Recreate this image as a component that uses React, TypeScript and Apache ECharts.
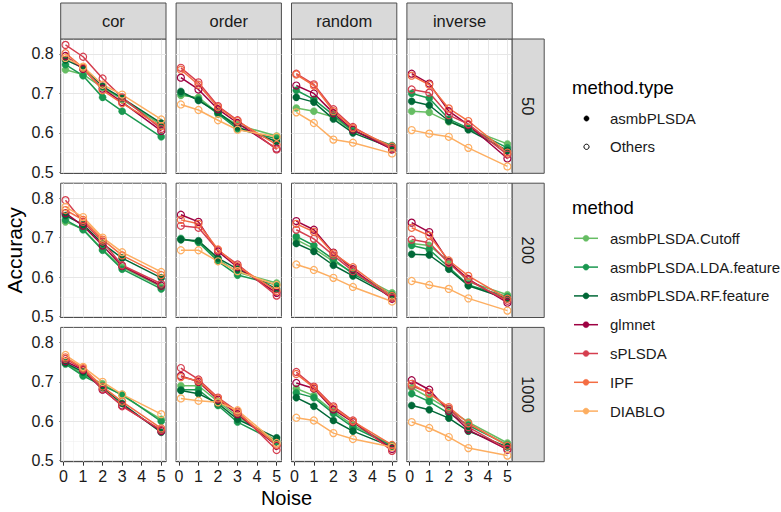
import React, { useEffect, useRef } from "react";
import * as echarts from "echarts";

const noise = [0.1, 1, 2, 3, 5];
const sizes = ["50", "200", "1000"];
const designs = ["cor", "order", "random", "inverse"];
const methods = [
  "asmbPLSDA.Cutoff",
  "asmbPLSDA.LDA.feature",
  "asmbPLSDA.RF.feature",
  "glmnet",
  "sPLSDA",
  "IPF",
  "DIABLO",
];
const methodTypes = ["asmbPLSDA", "asmbPLSDA", "asmbPLSDA", "Others", "Others", "Others", "Others"];
const colors = ["#66bd63", "#1a9850", "#006837", "#9e0142", "#d53e4f", "#f46d43", "#fdae61"];
const xTicks = [0, 1, 2, 3, 4, 5];
const xMinor = [0.5, 1.5, 2.5, 3.5, 4.5];
const yTicks = [0.5, 0.6, 0.7, 0.8];
const yMinor = [0.55, 0.65, 0.75];

// panels in order: 50-cor, 50-order, 50-random, 50-inverse, 200-..., 1000-...
const cutoff = [
  [0.760, 0.748, 0.715, 0.685, 0.620], [0.695, 0.690, 0.650, 0.620, 0.592], [0.663, 0.655, 0.640, 0.605, 0.565], [0.655, 0.652, 0.628, 0.610, 0.572],
  [0.740, 0.722, 0.670, 0.625, 0.575], [0.695, 0.690, 0.645, 0.612, 0.585], [0.695, 0.672, 0.640, 0.612, 0.560], [0.685, 0.680, 0.640, 0.588, 0.555],
  [0.748, 0.718, 0.695, 0.665, 0.605], [0.690, 0.690, 0.650, 0.612, 0.550], [0.683, 0.665, 0.625, 0.590, 0.540], [0.685, 0.660, 0.630, 0.598, 0.545],
];
const lda = [
  [0.773, 0.745, 0.690, 0.655, 0.590], [0.700, 0.685, 0.648, 0.610, 0.585], [0.708, 0.685, 0.645, 0.605, 0.568], [0.700, 0.688, 0.635, 0.612, 0.562],
  [0.745, 0.720, 0.668, 0.620, 0.570], [0.698, 0.688, 0.640, 0.605, 0.580], [0.703, 0.680, 0.645, 0.608, 0.555], [0.680, 0.670, 0.625, 0.580, 0.550],
  [0.745, 0.715, 0.690, 0.668, 0.600], [0.680, 0.680, 0.640, 0.598, 0.548], [0.672, 0.660, 0.620, 0.585, 0.538], [0.670, 0.650, 0.620, 0.590, 0.540],
];
const rf = [
  [0.785, 0.765, 0.718, 0.688, 0.625], [0.705, 0.682, 0.652, 0.615, 0.578], [0.690, 0.678, 0.635, 0.600, 0.562], [0.680, 0.670, 0.630, 0.608, 0.555],
  [0.756, 0.733, 0.685, 0.648, 0.598], [0.695, 0.692, 0.648, 0.620, 0.570], [0.685, 0.665, 0.630, 0.603, 0.550], [0.658, 0.656, 0.620, 0.578, 0.545],
  [0.748, 0.725, 0.685, 0.645, 0.572], [0.678, 0.670, 0.645, 0.605, 0.558], [0.660, 0.638, 0.602, 0.575, 0.535], [0.640, 0.629, 0.608, 0.575, 0.535],
];
const glmnet = [
  [0.795, 0.762, 0.712, 0.678, 0.605], [0.740, 0.710, 0.660, 0.625, 0.560], [0.720, 0.700, 0.650, 0.608, 0.558], [0.750, 0.725, 0.655, 0.620, 0.535],
  [0.762, 0.730, 0.680, 0.628, 0.578], [0.758, 0.740, 0.665, 0.625, 0.560], [0.742, 0.720, 0.662, 0.620, 0.545], [0.738, 0.714, 0.638, 0.595, 0.535],
  [0.752, 0.730, 0.680, 0.640, 0.575], [0.715, 0.700, 0.655, 0.618, 0.538], [0.697, 0.683, 0.630, 0.598, 0.530], [0.704, 0.680, 0.626, 0.578, 0.528],
];
const splsda = [
  [0.823, 0.793, 0.738, 0.690, 0.610], [0.765, 0.728, 0.668, 0.632, 0.558], [0.750, 0.723, 0.660, 0.615, 0.560], [0.710, 0.702, 0.645, 0.622, 0.545],
  [0.795, 0.740, 0.690, 0.630, 0.583], [0.730, 0.725, 0.668, 0.632, 0.553], [0.720, 0.697, 0.655, 0.615, 0.548], [0.695, 0.687, 0.635, 0.592, 0.540],
  [0.758, 0.732, 0.682, 0.638, 0.578], [0.735, 0.706, 0.660, 0.625, 0.527], [0.725, 0.688, 0.638, 0.602, 0.525], [0.690, 0.672, 0.632, 0.585, 0.530],
];
const ipf = [
  [0.802, 0.765, 0.708, 0.675, 0.617], [0.760, 0.722, 0.665, 0.630, 0.570], [0.748, 0.720, 0.655, 0.612, 0.565], [0.745, 0.722, 0.662, 0.630, 0.550],
  [0.770, 0.745, 0.695, 0.655, 0.605], [0.745, 0.735, 0.670, 0.628, 0.565], [0.735, 0.715, 0.660, 0.625, 0.552], [0.725, 0.705, 0.642, 0.603, 0.545],
  [0.762, 0.735, 0.688, 0.650, 0.582], [0.712, 0.702, 0.658, 0.622, 0.540], [0.720, 0.685, 0.635, 0.600, 0.540], [0.695, 0.670, 0.636, 0.595, 0.538],
];
const diablo = [
  [0.790, 0.768, 0.722, 0.697, 0.634], [0.672, 0.658, 0.632, 0.608, 0.590], [0.652, 0.625, 0.583, 0.575, 0.548], [0.607, 0.598, 0.590, 0.562, 0.515],
  [0.778, 0.752, 0.700, 0.663, 0.613], [0.668, 0.668, 0.640, 0.615, 0.580], [0.632, 0.618, 0.598, 0.575, 0.538], [0.590, 0.580, 0.570, 0.546, 0.515],
  [0.768, 0.738, 0.700, 0.668, 0.618], [0.658, 0.652, 0.648, 0.628, 0.545], [0.609, 0.602, 0.570, 0.555, 0.535], [0.598, 0.583, 0.560, 0.532, 0.513],
];
const accuracy = [cutoff, lda, rf, glmnet, splsda, ipf, diablo];

const FONT = "'Liberation Sans', Arial, sans-serif";
const X0 = 60.7, XSTEP = 115.4, PW = 105.3;
const Y0 = 39, YSTEP = 144.2, PH = 134.3;
const STRIP_TOP = 3;
const XMIN = -0.145, XMAX = 5.245;
const YMIN = 0.4975, YMAX = 0.838;

export default function App() {
  const ref = useRef<HTMLDivElement>(null);
  useEffect(() => {
    if (!ref.current) return;
    const chart = echarts.init(ref.current, null, { renderer: "svg" });
    const grids: any[] = [];
    const xAxes: any[] = [];
    const yAxes: any[] = [];
    const series: any[] = [];
    const graphics: any[] = [];
    for (let r = 0; r < sizes.length; r++) {
      for (let c = 0; c < designs.length; c++) {
        const k = r * designs.length + c;
        const left = X0 + c * XSTEP;
        const top = Y0 + r * YSTEP;
        grids.push({
          left, top, width: PW, height: PH,
          show: true, backgroundColor: "#ffffff", borderColor: "#4d4d4d", borderWidth: 1,
          containLabel: false,
        });
        xAxes.push({
          type: "value", gridIndex: k, min: XMIN, max: XMAX,
          axisLine: { show: true, lineStyle: { color: "#4d4d4d", width: 1 } },
          splitLine: { show: false },
          axisTick: { show: r === sizes.length - 1, customValues: xTicks, length: 4, lineStyle: { color: "#333", width: 1 } },
          axisLabel: {
            show: r === sizes.length - 1, customValues: xTicks, fontSize: 16, color: "#1a1a1a",
            fontFamily: FONT, margin: 7, formatter: (v: number) => String(v),
          },
        });
        yAxes.push({
          type: "value", gridIndex: k, min: YMIN, max: YMAX,
          axisLine: { show: true, lineStyle: { color: "#4d4d4d", width: 1 } },
          splitLine: { show: false },
          axisTick: { show: c === 0, customValues: yTicks, length: 4, lineStyle: { color: "#333", width: 1 } },
          axisLabel: {
            show: c === 0, customValues: yTicks, fontSize: 16, color: "#1a1a1a",
            fontFamily: FONT, margin: 7, formatter: (v: number) => v.toFixed(1),
          },
        });
        const gl: any[] = [];
        xTicks.forEach((v) => gl.push({ xAxis: v, lineStyle: { color: "#e6e6e6", width: 1, type: "solid" } }));
        xMinor.forEach((v) => gl.push({ xAxis: v, lineStyle: { color: "#f0f0f0", width: 0.6, type: "solid" } }));
        yTicks.forEach((v) => gl.push({ yAxis: v, lineStyle: { color: "#e6e6e6", width: 1, type: "solid" } }));
        yMinor.forEach((v) => gl.push({ yAxis: v, lineStyle: { color: "#f0f0f0", width: 0.6, type: "solid" } }));
        series.push({
          type: "line", xAxisIndex: k, yAxisIndex: k, silent: true, z: 1,
          data: [[2, 0.6]], symbol: "none", showSymbol: false, lineStyle: { width: 0, opacity: 0 },
          markLine: {
            silent: true, symbol: ["none", "none"], label: { show: false }, animation: false, z: 1,
            lineStyle: { type: "solid" }, emphasis: { disabled: true },
            data: gl,
          },
        });
        methods.forEach((m, mi) => {
          const col = colors[mi];
          const filled = methodTypes[mi] === "asmbPLSDA";
          series.push({
            type: "line", name: m, xAxisIndex: k, yAxisIndex: k, silent: true, z: 3,
            data: noise.map((x, i) => [x, accuracy[mi][k][i]]),
            symbol: "circle", symbolSize: 7, showSymbol: true,
            lineStyle: { color: col, width: 1.5 },
            itemStyle: filled
              ? { color: col, borderColor: col, borderWidth: 0.5 }
              : { color: "rgba(255,255,255,0)", borderColor: col, borderWidth: 1.2 },
          });
        });
        if (r === 0) {
          graphics.push({
            type: "rect", shape: { x: left, y: STRIP_TOP, width: PW, height: Y0 - STRIP_TOP },
            style: { fill: "#d9d9d9", stroke: "#4d4d4d", lineWidth: 1 }, z: 10,
          });
          graphics.push({
            type: "text", x: left + PW / 2, y: (STRIP_TOP + Y0) / 2, z: 11,
            style: { text: designs[c], fontSize: 16.5, fontFamily: FONT, fill: "#1a1a1a", align: "center", verticalAlign: "middle" },
          });
        }
        if (c === designs.length - 1) {
          const sx = left + PW;
          graphics.push({
            type: "rect", shape: { x: sx, y: top, width: 32, height: PH },
            style: { fill: "#d9d9d9", stroke: "#4d4d4d", lineWidth: 1 }, z: 10,
          });
          graphics.push({
            type: "text", x: sx + 16, y: top + PH / 2, rotation: -Math.PI / 2, z: 11,
            style: { text: sizes[r], fontSize: 16.5, fontFamily: FONT, fill: "#1a1a1a", align: "center", verticalAlign: "middle" },
          });
        }
      }
    }
    graphics.push({
      type: "text", x: 14, y: Y0 + (2 * YSTEP + PH) / 2, rotation: Math.PI / 2,
      style: { text: "Accuracy", fontSize: 21, fontFamily: FONT, fill: "#000", align: "center", verticalAlign: "middle" },
    });
    graphics.push({
      type: "text", x: X0 + (3 * XSTEP + PW) / 2, y: 498,
      style: { text: "Noise", fontSize: 20, fontFamily: FONT, fill: "#000", align: "center", verticalAlign: "middle" },
    });
    const LX = 572;
    graphics.push({
      type: "text", x: LX, y: 87,
      style: { text: "method.type", fontSize: 18.5, fontFamily: FONT, fill: "#000", align: "left", verticalAlign: "middle" },
    });
    ["asmbPLSDA", "Others"].forEach((t, i) => {
      const y = 118.5 + i * 28.3;
      graphics.push({
        type: "circle", shape: { cx: 586.5, cy: y, r: 2.6 },
        style: i === 0 ? { fill: "#000", stroke: "#000", lineWidth: 0.5 } : { fill: "none", stroke: "#000", lineWidth: 1 },
      });
      graphics.push({
        type: "text", x: 610, y,
        style: { text: t, fontSize: 15, fontFamily: FONT, fill: "#1a1a1a", align: "left", verticalAlign: "middle" },
      });
    });
    graphics.push({
      type: "text", x: LX, y: 207,
      style: { text: "method", fontSize: 18.5, fontFamily: FONT, fill: "#000", align: "left", verticalAlign: "middle" },
    });
    methods.forEach((m, i) => {
      const y = 238.3 + i * 28.8;
      graphics.push({
        type: "line", shape: { x1: 574, y1: y, x2: 598, y2: y },
        style: { stroke: colors[i], lineWidth: 1.5 },
      });
      graphics.push({
        type: "circle", shape: { cx: 586, cy: y, r: 3 },
        style: { fill: colors[i], stroke: colors[i], lineWidth: 0.5 },
      });
      graphics.push({
        type: "text", x: 610, y,
        style: { text: m, fontSize: 15, fontFamily: FONT, fill: "#1a1a1a", align: "left", verticalAlign: "middle" },
      });
    });

    chart.setOption({
      animation: false,
      backgroundColor: "#ffffff",
      textStyle: { fontFamily: FONT },
      grid: grids,
      xAxis: xAxes,
      yAxis: yAxes,
      series,
      graphic: graphics,
    });
    return () => chart.dispose();
  }, []);
  return <div ref={ref} style={{ position: "fixed", left: 0, top: 0, width: 781, height: 512 }} />;
}
